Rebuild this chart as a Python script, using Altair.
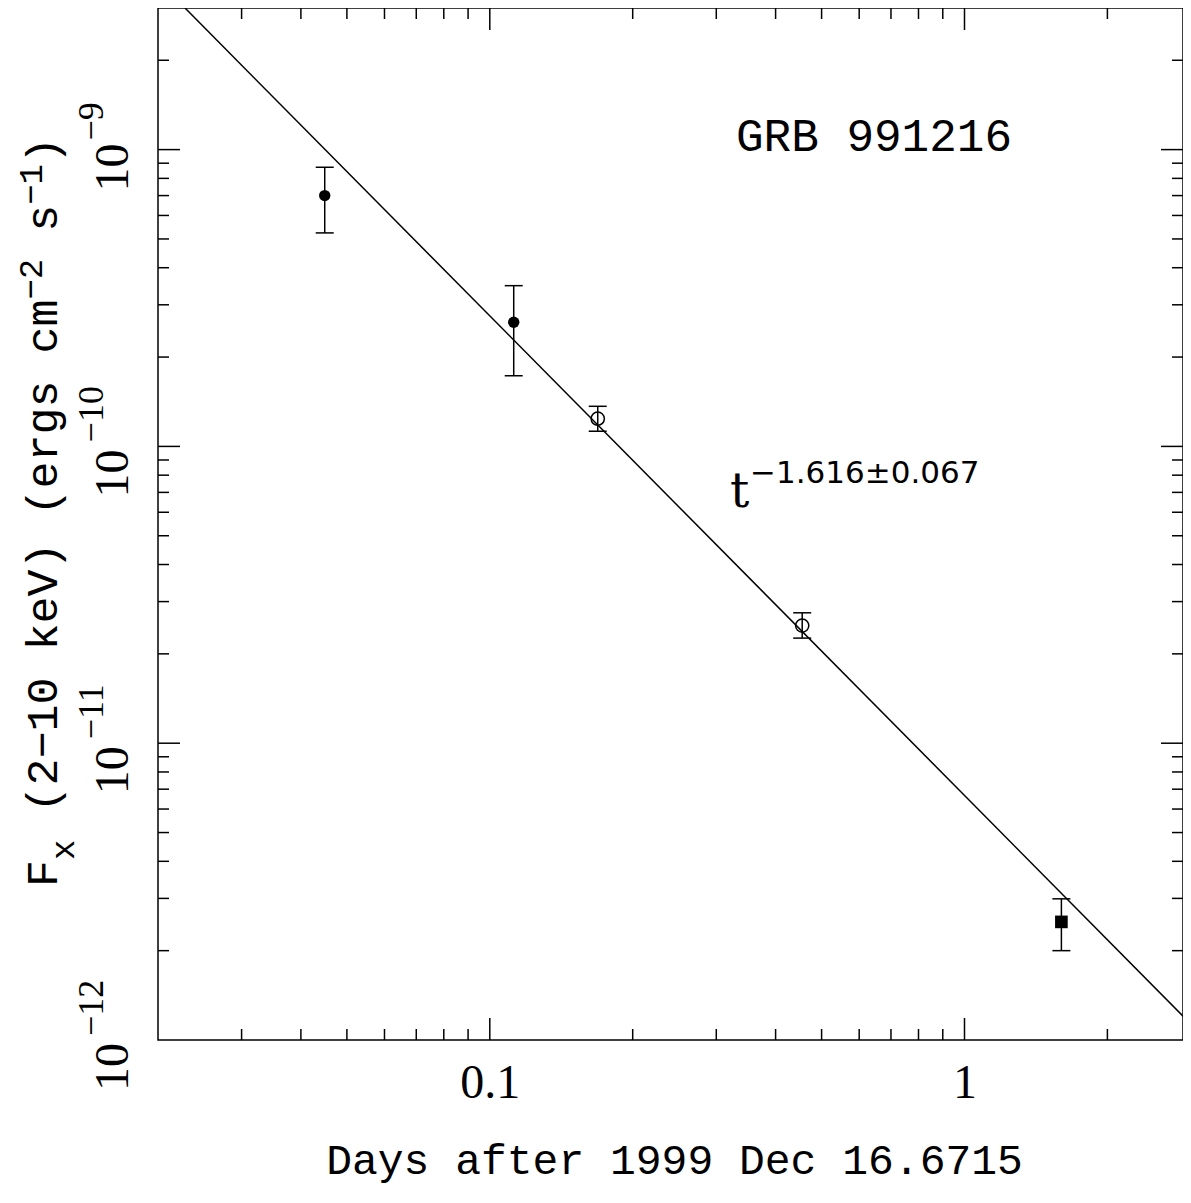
import altair as alt
import pandas as pd

# ---------------- data ----------------
days = [0.0449, 0.1123, 0.1688, 0.4551, 1.60]
flux = [7.0e-10, 2.62e-10, 1.24e-10, 2.49e-11, 2.50e-12]
flux_hi = [8.72e-10, 3.48e-10, 1.365e-10, 2.75e-11, 2.99e-12]
flux_lo = [5.24e-10, 1.73e-10, 1.125e-10, 2.26e-11, 2.00e-12]
marker = ["filled", "filled", "open", "open", "square"]

fit_days = [0.0228, 3.0]
fit_flux = [3.0e-9, 1.13e-12]

x_major_ticks = [0.1, 1.0]
x_minor_ticks = [0.03, 0.04, 0.05, 0.06, 0.07, 0.08, 0.09,
                 0.2, 0.3, 0.4, 0.5, 0.6, 0.7, 0.8, 0.9, 2.0]
y_major_ticks = [1e-11, 1e-10, 1e-9]
y_minor_ticks = [2e-12, 3e-12, 4e-12, 5e-12, 6e-12, 7e-12, 8e-12, 9e-12,
                 2e-11, 3e-11, 4e-11, 5e-11, 6e-11, 7e-11, 8e-11, 9e-11,
                 2e-10, 3e-10, 4e-10, 5e-10, 6e-10, 7e-10, 8e-10, 9e-10,
                 2e-9]

y_label_values = [1e-12, 1e-11, 1e-10, 1e-9]
y_label_base = ["10", "10", "10", "10"]
y_label_exp = ["\u221212", "\u221211", "\u221210", "\u22129"]

x_title = "Days after 1999 Dec 16.6715"
y_title_parts = ["F", "x", " (2\u221210 keV) (ergs cm", "\u22122", " s", "\u22121", ")"]
y_title_kinds = ["base", "sub", "base", "sup", "base", "sup", "base"]

grb_label = ["GRB 991216"]
grb_x = [0.6447]
grb_y = [9.92e-10]

slope_base = ["t"]
slope_exp = ["\u22121.616\u00b10.067"]
slope_x = [0.3206]
slope_y = [6.23e-11]
slope_exp_x = [0.3533]
slope_exp_y = [7.50e-11]

# ---------------- layout ----------------
W, H = 1025, 1032
MAJ, MIN = 22, 11
LW = 1.5

# the reference frame runs past the right edge of the window; keep its scale
xs = alt.Scale(type="log", domain=[0.02, 2.886], nice=False)
ys = alt.Scale(type="log", domain=[1e-12, 3e-9], nice=False)

x_axis = alt.Axis(values=x_major_ticks, format="~g", ticks=False, domain=False,
                  grid=False, labelFont="Liberation Serif", labelFontSize=48,
                  labelPadding=19, labelColor="black", labelFlush=False,
                  labelOverlap=False,
                  title=x_title, titleFont="Liberation Mono", titleFontSize=43,
                  titleFontWeight="normal", titleColor="black", titleY=133,
                  titleX=516, titleAlign="center", titleBaseline="alphabetic")


def X(field="x"):
    return alt.X(f"{field}:Q", scale=xs, axis=x_axis)


def Y(field="y"):
    return alt.Y(f"{field}:Q", scale=ys, axis=None)


pts = pd.DataFrame({"x": days, "y": flux, "lo": flux_lo, "hi": flux_hi, "kind": marker})
fit = pd.DataFrame({"x": fit_days, "y": fit_flux})

layers = []

# fit line
layers.append(alt.Chart(fit).mark_line(color="black", strokeWidth=LW, clip=True).encode(
    x=X(), y=Y()))

# error bars
base = alt.Chart(pts)
layers.append(base.mark_rule(color="black", strokeWidth=LW).encode(
    x=X(), y=Y("lo"), y2="hi:Q"))
for f in ["lo", "hi"]:
    layers.append(base.mark_tick(color="black", orient="horizontal", size=18,
                                 thickness=LW, opacity=1).encode(x=X(), y=Y(f)))

# markers
layers.append(base.transform_filter(alt.datum.kind == "filled").mark_point(
    shape="circle", filled=True, size=130, color="black", opacity=1).encode(x=X(), y=Y()))
layers.append(base.transform_filter(alt.datum.kind == "open").mark_point(
    shape="circle", filled=False, size=175, color="black", strokeWidth=LW,
    opacity=1).encode(x=X(), y=Y()))
layers.append(base.transform_filter(alt.datum.kind == "square").mark_point(
    shape="square", filled=True, size=160, color="black", opacity=1).encode(x=X(), y=Y()))

# ticks on all four sides (inside)
xmaj = pd.DataFrame({"x": x_major_ticks})
xmin = pd.DataFrame({"x": x_minor_ticks})
ymaj = pd.DataFrame({"y": y_major_ticks})
ymin = pd.DataFrame({"y": y_minor_ticks})
for df, L in [(xmaj, MAJ), (xmin, MIN)]:
    c = alt.Chart(df).mark_rule(color="black", strokeWidth=LW)
    layers.append(c.encode(x=X(), y=alt.value(H), y2=alt.value(H - L)))
    layers.append(c.encode(x=X(), y=alt.value(0), y2=alt.value(L)))
for df, L in [(ymaj, MAJ), (ymin, MIN)]:
    c = alt.Chart(df).mark_rule(color="black", strokeWidth=LW)
    layers.append(c.encode(y=Y(), x=alt.value(0), x2=alt.value(L)))
    layers.append(c.encode(y=Y(), x=alt.value(W), x2=alt.value(W - L)))

# y tick labels: 10 with superscript exponent, rotated
ylab = pd.DataFrame({"y": y_label_values, "b": y_label_base, "e": y_label_exp})
for cond, dxb, dxe in [("datum.e.length == 2", 6, 9), ("datum.e.length == 3", -3, 4)]:
    c = alt.Chart(ylab).transform_filter(cond)
    layers.append(c.mark_text(font="Liberation Serif", fontSize=48, angle=270,
                              align="right", baseline="alphabetic", dx=dxb,
                              color="black").encode(y=Y(), x=alt.value(-30), text="b:N"))
    layers.append(c.mark_text(font="Liberation Serif", fontSize=36, angle=270,
                              align="left", baseline="alphabetic", dx=dxe,
                              color="black").encode(y=Y(), x=alt.value(-55), text="e:N"))

# y axis title built from pieces (sub/superscripts); SVG drops leading blanks,
# so advance over them explicitly
one = pd.DataFrame({"k": [0]})
FS_BASE, FS_SMALL = 45, 34
perp = {"base": 57 - 158, "sub": 74 - 158, "sup": 42 - 158}
along = 0.0
start_y = 887 - 8
for txt, kind in zip(y_title_parts, y_title_kinds):
    fs = FS_BASE if kind == "base" else FS_SMALL
    lead = len(txt) - len(txt.lstrip(" "))
    along += 0.6 * fs * lead
    body = txt.strip(" ")
    layers.append(alt.Chart(one).mark_text(
        text=body, font="Liberation Mono", fontSize=fs, angle=270, align="left",
        baseline="alphabetic", color="black").encode(
        x=alt.value(perp[kind]), y=alt.value(start_y - along)))
    along += 0.6 * fs * len(body)

# annotations
grb = pd.DataFrame({"x": grb_x, "y": grb_y, "t": grb_label})
layers.append(alt.Chart(grb).mark_text(font="Liberation Mono", fontSize=46, align="center",
                                       baseline="alphabetic", color="black").encode(
    x=X(), y=Y(), text="t:N"))
sl = pd.DataFrame({"x": slope_x, "y": slope_y, "t": slope_base})
layers.append(alt.Chart(sl).mark_text(font="DejaVu Serif", fontSize=48, align="left",
                                      baseline="alphabetic", color="black").encode(
    x=X(), y=Y(), text="t:N"))
se = pd.DataFrame({"x": slope_exp_x, "y": slope_exp_y, "t": slope_exp})
layers.append(alt.Chart(se).mark_text(font="DejaVu Sans", fontSize=31, align="left",
                                      baseline="alphabetic", color="black").encode(
    x=X(), y=Y(), text="t:N"))

chart = alt.layer(*layers).properties(
    width=W, height=H,
    autosize=alt.AutoSizeParams(type="none"),
    padding={"left": 150, "top": 0, "right": 0, "bottom": 148},
    background="white",
).configure_view(stroke="black", strokeWidth=LW)

chart.save("out.html", embed_options={"renderer": "svg", "actions": False})
